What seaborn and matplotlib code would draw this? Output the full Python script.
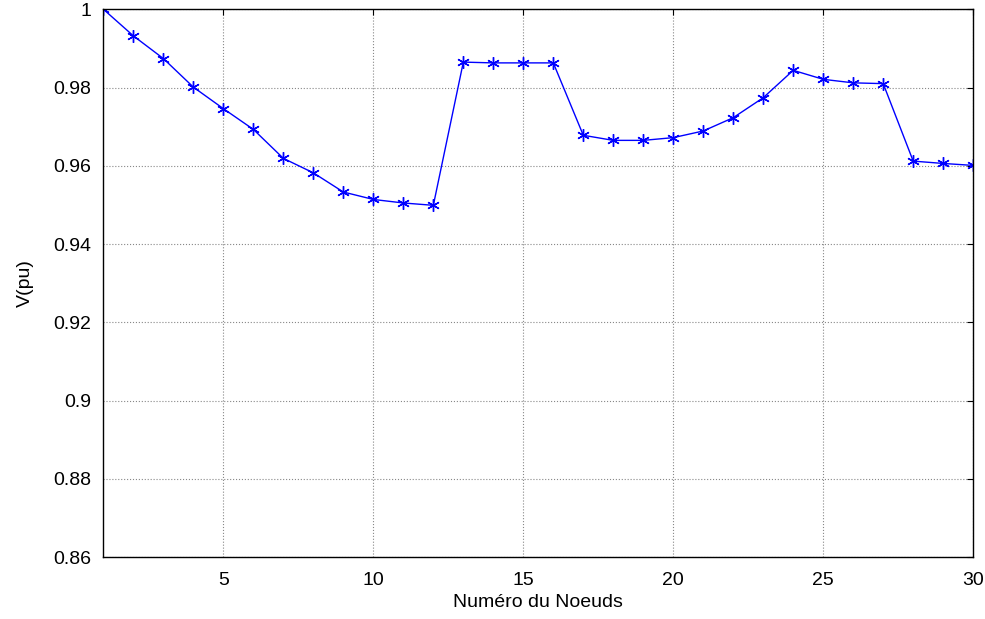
import numpy as np
import pandas as pd
import matplotlib
matplotlib.use("Agg")
import matplotlib.pyplot as plt
import seaborn as sns

# Tension aux noeuds (pu)
noeuds = list(range(1, 31))
tension = [1.000, 0.9932, 0.9874, 0.9801, 0.9746, 0.9693, 0.9619, 0.9582, 0.9533, 0.9514,
           0.9505, 0.9499, 0.9865, 0.9863, 0.9863, 0.9863, 0.9678, 0.9665, 0.9665, 0.9672,
           0.9689, 0.9723, 0.9774, 0.9844, 0.9821, 0.9812, 0.9810, 0.9612, 0.9606, 0.9601]

df = pd.DataFrame({"noeud": noeuds, "V": tension})

sns.set_style("white")
plt.rcParams["font.family"] = ["Liberation Sans", "DejaVu Sans"]

fig, ax = plt.subplots(figsize=(9.85, 6.19), dpi=100)
sns.lineplot(data=df, x="noeud", y="V", ax=ax, color="#0000ff", linewidth=1,
             marker=(6, 2, 0), markersize=9, markeredgecolor="#0000ff",
             markeredgewidth=1)

ax.set_xlim(1, 30)
ax.set_ylim(0.86, 1.0)
ax.set_xticks([5, 10, 15, 20, 25, 30])
ax.set_yticks(np.arange(0.86, 1.001, 0.02))
ax.set_yticklabels(["0.86", "0.88", "0.9", "0.92", "0.94", "0.96", "0.98", "1"])
ax.grid(True, color="#888888", linestyle=":", linewidth=0.8)
ax.tick_params(direction="in", length=4, labelsize=14, top=True, right=True,
               colors="black")
ax.tick_params(axis="x", pad=11)
ax.tick_params(axis="y", pad=9)
for s in ax.spines.values():
    s.set_color("black")
    s.set_linewidth(1)
ax.set_xlabel("Numéro du Noeuds", fontsize=14, color="black", labelpad=3)
ax.set_ylabel("V(pu)", fontsize=14, color="black", labelpad=14)

plt.subplots_adjust(left=0.105, right=0.988, top=0.985, bottom=0.10)
plt.savefig("out.png", dpi=100)
